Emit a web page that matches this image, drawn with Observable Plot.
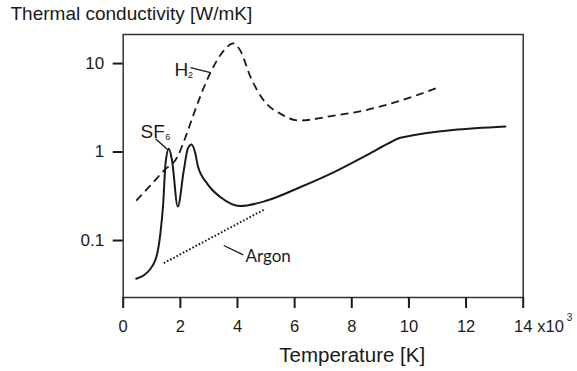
<!DOCTYPE html>
<html><head><meta charset="utf-8">
<script src="https://cdn.jsdelivr.net/npm/d3@7"></script>
<script src="https://cdn.jsdelivr.net/npm/@observablehq/plot@0.6"></script>
<style>body{margin:0;background:#fff} svg{display:block}</style>
</head><body><div id="chart"></div>
<script>
// H2 (dashed): temperature [10^3 K], conductivity [W/mK]
const h2T = [0.455, 0.955, 1.42, 1.89, 2.18, 2.47, 2.71, 3.06, 3.52, 3.85, 4.1, 4.46, 4.92, 5.51, 6.15, 7.37, 8.54, 9.71, 10.64, 11.1];
const h2K = [0.283, 0.419, 0.618, 0.873, 1.47, 2.70, 4.35, 7.97, 14.0, 16.9, 14.0, 7.0, 3.82, 2.70, 2.27, 2.58, 3.0, 3.82, 4.83, 5.5];
// SF6 (solid)
const sf6T = [0.455, 0.955, 1.19, 1.3, 1.4, 1.48, 1.6, 1.71, 1.91, 2.12, 2.26, 2.39, 2.53, 2.61, 2.94, 3.4, 4.1, 5.03, 6.19, 7.36, 8.54, 9.36, 9.7, 13.38];
const sf6K = [0.037, 0.048, 0.071, 0.119, 0.26, 0.736, 1.09, 0.80, 0.242, 0.618, 1.09, 1.22, 0.95, 0.70, 0.44, 0.31, 0.245, 0.283, 0.40, 0.59, 0.93, 1.29, 1.45, 1.94];
// Argon (dotted)
const arT = [1.42, 4.98];
const arK = [0.0555, 0.228];

// axes
const xTicks = [0, 2, 4, 6, 8, 10, 12, 14];
const yTicks = [0.1, 1, 10];
const yTickLabels = ["0.1", "1", "10"];
const xDomain = [0, 14];
const yDomain = [0.0227, 21.3];
const xLabel = "Temperature [K]";
const yLabel = "Thermal conductivity [W/mK]";
const xUnit = "x10";
const xUnitExp = "3";

// annotations (data coordinates)
const labelNames = ["H", "SF", "Argon"];
const labelSubs = ["2", "6", ""];
const labelT = [1.796, 0.606, 4.281];
const labelK = [7.32, 1.447, 0.0579];
const leaderT1 = [2.356, 1.13, 3.52];
const leaderK1 = [9.01, 1.41, 0.0878];
const leaderT2 = [3.056, 1.561, 4.20];
const leaderK2 = [7.91, 1.059, 0.0689];

const h2 = h2T.map((t, i) => ({t, k: h2K[i]}));
const sf6 = sf6T.map((t, i) => ({t, k: sf6K[i]}));
const ar = arT.map((t, i) => ({t, k: arK[i]}));
const labels = labelNames.map((name, i) => ({name, sub: labelSubs[i], t: labelT[i], k: labelK[i]}));
const leaders = leaderT1.map((t1, i) => ({t1, k1: leaderK1[i], t2: leaderT2[i], k2: leaderK2[i]}));

const ink = "#1a1a1a";
const font = "'Liberation Sans', Arial, Helvetica, sans-serif";

const chart = Plot.plot({
  width: 577,
  height: 371,
  marginLeft: 122.7,
  marginRight: 54.3,
  marginTop: 34,
  marginBottom: 74,
  style: {fontFamily: font, background: "#fff", color: ink},
  x: {domain: xDomain},
  y: {type: "log", domain: yDomain},
  marks: [
    Plot.frame({stroke: "#333", strokeWidth: 1.5}),
    Plot.axisX({ticks: xTicks, tickSize: 11, tickPadding: 12, fontSize: 16.5, strokeWidth: 2, stroke: ink, fill: ink, label: null, tickFormat: d => String(d)}),
    Plot.axisY({ticks: yTicks, tickSize: 10, tickPadding: 9, fontSize: 17, strokeWidth: 2, stroke: ink, fill: ink, label: null, tickFormat: d => yTickLabels[yTicks.indexOf(d)]}),
    Plot.line(h2, {x: "t", y: "k", curve: "monotone-x", stroke: ink, strokeWidth: 1.8, strokeDasharray: "8,5", strokeLinecap: "butt"}),
    Plot.line(sf6, {x: "t", y: "k", curve: "monotone-x", stroke: ink, strokeWidth: 2}),
    Plot.line(ar, {x: "t", y: "k", stroke: ink, strokeWidth: 2, strokeDasharray: "1.6,2", strokeLinecap: "butt"}),
    Plot.link(leaders, {x1: "t1", y1: "k1", x2: "t2", y2: "k2", stroke: ink, strokeWidth: 1.3}),
    Plot.text(labels.filter(d => d.name !== "Argon"), {x: "t", y: "k", text: "name", textAnchor: "start", lineAnchor: "bottom", fontSize: 19, fill: ink}),
    Plot.text(labels.filter(d => d.name === "H"), {x: "t", y: "k", text: "sub", textAnchor: "start", lineAnchor: "bottom", fontSize: 9, fill: ink, dx: 13.5, dy: 2}),
    Plot.text(labels.filter(d => d.name === "SF"), {x: "t", y: "k", text: "sub", textAnchor: "start", lineAnchor: "bottom", fontSize: 9, fill: ink, dx: 24.8, dy: 2}),
    Plot.text(labels.filter(d => d.name === "Argon"), {x: "t", y: "k", text: "name", textAnchor: "start", lineAnchor: "bottom", fontSize: 17, fontFamily: "Lato, 'Open Sans', sans-serif", fill: ink}),
    Plot.text([xLabel], {frameAnchor: "bottom", text: d => d, dx: 29, dy: 64.7, lineAnchor: "bottom", fontSize: 20.5, fill: ink}),
    Plot.text([yLabel], {frameAnchor: "top-left", text: d => d, dx: -112.7, dy: -15, textAnchor: "start", lineAnchor: "bottom", fontSize: 19, fill: ink}),
    Plot.text([xUnit], {x: () => xDomain[1], frameAnchor: "bottom", text: d => d, dx: 14, dy: 34.7, textAnchor: "start", lineAnchor: "bottom", fontSize: 16.5, fill: ink}),
    Plot.text([xUnitExp], {x: () => xDomain[1], frameAnchor: "bottom", text: d => d, dx: 43.5, dy: 23.5, textAnchor: "start", lineAnchor: "bottom", fontSize: 10, fill: ink})
  ]
});
document.getElementById("chart").append(chart);
</script>
</body></html>
